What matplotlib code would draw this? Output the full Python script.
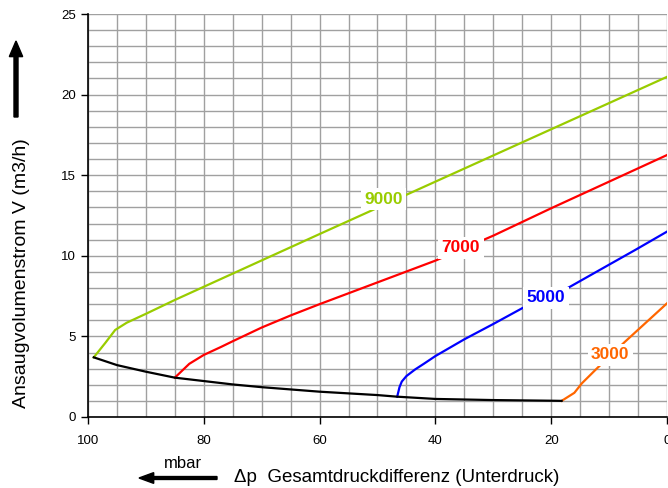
import numpy as np
import matplotlib
matplotlib.use('Agg')
import matplotlib.pyplot as plt

plt.rcParams['font.family'] = ['Liberation Sans', 'DejaVu Sans']

# Grenzkurve (schwarz)
limit_x = [99, 95, 90, 85, 80, 75, 70, 60, 50, 46.6, 40, 30, 20, 18.2]
limit_y = [3.7, 3.22, 2.81, 2.44, 2.23, 2.02, 1.85, 1.57, 1.36, 1.26, 1.12, 1.05, 1.01, 1.0]

# Drehzahlkurven
n9000_x = [99, 97, 95.3, 93.3, 90, 85, 60, 40, 20, 0]
n9000_y = [3.7, 4.6, 5.4, 5.85, 6.4, 7.26, 11.35, 14.6, 17.85, 21.1]
n7000_x = [85, 82.5, 80, 77, 75, 70, 65, 60, 50, 40, 30, 20, 10, 0]
n7000_y = [2.44, 3.3, 3.85, 4.35, 4.7, 5.55, 6.3, 7.0, 8.35, 9.7, 11.25, 12.95, 14.6, 16.25]
n5000_x = [46.6, 46.4, 46.2, 45.8, 45.0, 43.5, 42, 40, 35, 30, 25, 20, 16.75, 10, 5.5, 0]
n5000_y = [1.26, 1.55, 1.85, 2.2, 2.54, 2.95, 3.3, 3.78, 4.82, 5.77, 6.75, 7.45, 8.08, 9.45, 10.36, 11.5]
n3000_x = [18.2, 16, 14.7, 12, 7.25, 0]
n3000_y = [1.0, 1.5, 2.09, 3.05, 4.67, 7.05]

labels = ['9000', '7000', '5000', '3000']
label_pos = [(49.0, 13.5), (35.6, 10.5), (20.9, 7.4), (9.8, 3.85)]
colors = ['#99cc00', '#ff0000', '#0000ff', '#ff6600']

fig = plt.figure(figsize=(6.68, 4.88), dpi=100)
ax = fig.add_axes([0.1317, 0.1455, 0.8668, 0.8258])

curves = [(n9000_x, n9000_y), (n7000_x, n7000_y),
          (n5000_x, n5000_y), (n3000_x, n3000_y)]
for (cx, cy), col in zip(curves, colors):
    ax.plot(cx, cy, color=col, lw=1.6, zorder=3)
ax.plot(limit_x, limit_y, color='black', lw=1.6, zorder=4)

for lab, (lx, ly), col in zip(labels, label_pos, colors):
    ax.text(lx, ly, lab, color=col, fontsize=12.5, fontweight='bold',
            ha='center', va='center', zorder=5,
            bbox=dict(facecolor='white', edgecolor='none', pad=2.5))

ax.set_xlim(100, 0)
ax.set_ylim(0, 25)
ax.set_xticks(np.arange(0, 101, 20))
ax.set_xticks(np.arange(0, 101, 5), minor=True)
ax.set_yticks(np.arange(0, 26, 5))
ax.set_yticks(np.arange(0, 26, 1), minor=True)
ax.grid(True, which='both', color='#a0a0a0', lw=1.0, zorder=0)
ax.set_axisbelow(True)
ax.tick_params(which='minor', length=0)
ax.tick_params(which='major', length=5, width=1, labelsize=9.5, color='black')
ax.tick_params(axis='x', pad=8)
for s in ['top', 'right']:
    ax.spines[s].set_visible(False)
for s in ['left', 'bottom']:
    ax.spines[s].set_linewidth(1.2)

fig.text(0.0315, 1 - 273 / 488, 'Ansaugvolumenstrom V (m3/h)', rotation=90,
         ha='center', va='center', fontsize=14)
fig.patches.append(matplotlib.patches.FancyArrow(
    16 / 668, 1 - 117 / 488, 0, 76 / 488, width=0.006, head_width=0.02,
    head_length=0.032, length_includes_head=True, color='black',
    transform=fig.transFigure))

fig.text(183 / 668, 1 - 463 / 488, 'mbar', ha='center', va='center', fontsize=12)
fig.patches.append(matplotlib.patches.FancyArrow(
    217 / 668, 1 - 478 / 488, -78 / 668, 0, width=0.006, head_width=0.022,
    head_length=0.022, length_includes_head=True, color='black',
    transform=fig.transFigure))
fig.text(234 / 668, 1 - 478 / 488, 'Δp  Gesamtdruckdifferenz (Unterdruck)',
         ha='left', va='center', fontsize=13.5)

fig.savefig('out.png', dpi=100)
